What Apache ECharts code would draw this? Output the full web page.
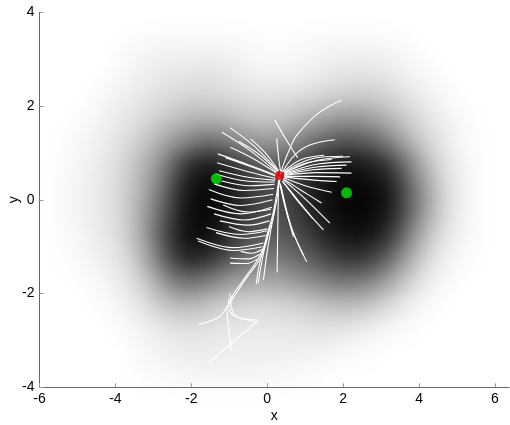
<!DOCTYPE html>
<html><head><meta charset="utf-8">
<script src="https://cdn.jsdelivr.net/npm/echarts@6/dist/echarts.min.js"></script>
<style>
html,body{margin:0;padding:0;background:#fff;}
#wrap{position:relative;width:510px;height:425px;overflow:hidden;background:#fff;}
#heat,#main{position:absolute;left:0;top:0;width:510px;height:425px;}
#heat{filter:blur(10px);}
</style></head><body>
<div id="wrap"><div id="heat"></div><div id="main"></div></div>
<script>
const xTicks = [-6, -4, -2, 0, 2, 4, 6];
const yTicks = [-4, -2, 0, 2, 4];
const heatX = [-5.75,-5.25,-4.75,-4.25,-3.75,-3.25,-2.75,-2.25,-1.75,-1.25,-0.75,-0.25,0.25,0.75,1.25,1.75,2.25,2.75,3.25,3.75,4.25,4.75,5.25,5.75];
const heatY = [-3.75,-3.25,-2.75,-2.25,-1.75,-1.25,-0.75,-0.25,0.25,0.75,1.25,1.75,2.25,2.75,3.25,3.75];
// density rows, top (y=3.75) to bottom (y=-3.75), 0 = white, 100 = black
const densityRows = [
 [0,0,0,0,0,0,0,0,0,0,0,0,0,0,0,0,0,0,0,0,0,0,0,0],
 [0,0,0,0,1,3,4,4,4,4,3,2,1,2,3,4,4,4,3,1,0,0,0,0],
 [0,0,0,0,3,6,8,9,10,10,7,4,4,4,6,9,10,10,8,4,2,0,0,0],
 [0,0,0,3,6,9,12,15,16,15,13,11,11,12,14,17,19,19,15,10,5,2,0,0],
 [0,0,2,5,9,14,20,26,29,28,24,21,22,26,32,38,40,37,28,18,10,5,1,0],
 [0,1,4,7,13,21,34,44,55,55,46,40,40,46,56,65,67,61,48,30,16,7,2,0],
 [0,2,5,9,17,30,45,74,90,88,76,66,64,70,82,90,93,88,78,50,26,10,4,0],
 [0,3,6,10,18,32,55,86,97,96,86,74,70,78,90,96,98,97,90,62,34,13,4,0],
 [0,3,6,10,18,36,62,90,98,95,84,72,68,76,88,95,98,97,90,62,34,13,4,0],
 [0,2,5,9,17,36,68,92,97,90,76,66,64,70,80,90,94,92,80,50,24,9,3,0],
 [0,1,3,7,13,30,60,84,86,74,60,54,52,58,66,76,80,76,58,34,14,5,1,0],
 [0,0,1,4,9,20,40,56,54,44,36,34,34,40,46,52,54,48,34,18,7,2,0,0],
 [0,0,0,2,5,11,22,28,26,20,16,15,16,18,22,26,26,22,14,6,2,0,0,0],
 [0,0,0,0,2,5,9,12,12,10,9,9,9,10,11,11,9,6,3,1,0,0,0,0],
 [0,0,0,0,0,3,5,7,7,7,6,6,6,6,5,4,2,1,0,0,0,0,0,0],
 [0,0,0,0,0,1,2,3,4,4,4,4,3,2,1,0,0,0,0,0,0,0,0,0]
];
const redPoint = [[0.32, 0.52]];
const greenPoints = [[-1.34, 0.45], [2.09, 0.15]];
const leftPaths = [
 [[-0.98,1.54],[-0.35,1.15],[0.28,0.62]],
 [[-1.19,1.44],[-0.45,1.05],[0.26,0.58]],
 [[-0.44,1.30],[-0.05,1.00],[0.30,0.62]],
 [[-0.75,1.25],[-0.20,0.96],[0.28,0.60]],
 [[-0.97,1.12],[-0.35,0.87],[0.26,0.56]],
 [[-1.30,0.98],[-0.50,0.75],[0.25,0.52]],
 [[-1.10,0.90],[-0.40,0.70],[0.24,0.50]],
 [[-1.32,0.79],[-0.50,0.60],[0.22,0.46]],
 [[-1.27,0.62],[-0.50,0.48],[0.21,0.42]],
 [[-1.36,0.55],[-0.55,0.40],[0.20,0.38]],
 [[-1.20,0.40],[-0.45,0.30],[0.19,0.33]],
 [[-1.40,0.34],[-0.60,0.20],[0.18,0.24]],
 [[-1.54,0.22],[-0.70,0.04],[0.16,0.12]],
 [[-1.49,0.02],[-0.70,-0.12],[0.14,0.00]],
 [[-1.58,-0.14],[-0.70,-0.30],[0.12,-0.16]],
 [[-1.40,-0.30],[-0.60,-0.43],[0.10,-0.30]],
 [[-1.16,-0.11],[-0.50,-0.26],[0.10,-0.20]],
 [[-1.25,-0.45],[-0.50,-0.54],[0.06,-0.45]],
 [[-1.60,-0.59],[-0.70,-0.74],[0.00,-0.66]],
 [[-1.01,-0.57],[-0.50,-0.68],[0.00,-0.62]],
 [[-1.35,-0.70],[-0.60,-0.82],[-0.04,-0.76]],
 [[-1.86,-0.82],[-0.90,-1.02],[-0.10,-0.92]],
 [[-1.82,-0.88],[-0.90,-1.08],[-0.13,-1.00]],
 [[-0.98,-1.24],[-0.50,-1.26],[-0.20,-1.16]],
 [[-0.98,-1.35],[-0.55,-1.36],[-0.26,-1.26]],
 [[-0.70,-1.10],[-0.40,-1.14],[-0.14,-1.06]]
];
const rightPaths = [
 [[2.18,0.92],[1.30,0.84],[0.45,0.58]],
 [[2.22,0.81],[1.30,0.76],[0.45,0.56]],
 [[2.09,0.74],[1.30,0.70],[0.45,0.55]],
 [[1.96,0.67],[1.20,0.64],[0.45,0.53]],
 [[2.22,0.57],[1.30,0.58],[0.45,0.52]],
 [[1.92,0.49],[1.20,0.50],[0.45,0.50]],
 [[1.83,0.39],[1.10,0.43],[0.45,0.49]],
 [[1.70,0.16],[1.00,0.30],[0.44,0.47]],
 [[1.43,-0.07],[0.90,0.20],[0.42,0.45]],
 [[1.65,-0.50],[1.00,0.02],[0.42,0.43]],
 [[1.48,-0.64],[0.90,-0.12],[0.40,0.40]],
 [[1.04,-1.32],[0.65,-0.62],[0.36,0.30]],
 [[0.95,-1.18],[0.60,-0.52],[0.34,0.30]],
 [[0.69,-0.79],[0.50,-0.22],[0.34,0.35]],
 [[1.20,-0.40],[0.80,0.00],[0.40,0.40]],
 [[1.70,0.86],[1.00,0.78],[0.45,0.57]],
 [[1.50,0.95],[0.90,0.86],[0.42,0.60]],
 [[2.00,0.93],[1.20,0.88],[0.45,0.60]]
];
const trunkPaths = [
 [[0.32,0.50],[0.22,-0.01],[0.13,-0.37],[0.00,-0.72],[-0.09,-1.00],[-0.26,-1.29],[-0.48,-1.54],[-0.70,-1.79],[-0.88,-2.00],[-1.01,-2.22],[-1.07,-2.30]],
 [[0.34,0.48],[0.25,0.00],[0.16,-0.37],[0.03,-0.72],[-0.06,-1.00],[-0.22,-1.30],[-0.45,-1.56],[-0.68,-1.82],[-0.85,-2.04],[-0.98,-2.20]],
 [[0.30,0.40],[0.28,-0.50],[0.26,-1.55]],
 [[0.20,-0.20],[0.02,-1.00],[-0.10,-1.71]],
 [[0.08,-0.55],[-0.10,-1.15],[-0.24,-1.78]],
 [[-0.02,-0.85],[-0.20,-1.35],[-0.29,-1.80]],
 [[-1.07,-2.28],[-1.25,-2.49],[-1.82,-2.67]],
 [[-1.07,-2.28],[-1.03,-2.63],[-0.94,-3.24]],
 [[-0.98,-1.99],[-0.85,-2.47],[-0.28,-2.56]],
 [[-1.02,-2.12],[-0.92,-2.45],[-0.24,-2.60]],
 [[-0.24,-2.58],[-1.51,-3.45]]
];
const topPaths = [
 [[0.34,0.52],[0.42,0.74],[0.60,1.10],[0.78,1.38],[1.35,1.85],[1.96,2.13]],
 [[0.36,0.55],[0.73,0.96],[1.12,1.17],[1.78,1.28]],
 [[0.20,1.70],[0.50,1.28],[0.80,0.90]],
 [[0.25,1.31],[0.30,0.90],[0.36,0.55]]
];

const font = "'Liberation Sans', Arial, sans-serif";
const allPaths = [].concat(leftPaths, rightPaths, trunkPaths, topPaths);
const lineSeries = allPaths.map(p => ({
  type: 'line', data: p, smooth: 0.35, symbol: 'none', silent: true,
  lineStyle: { color: '#ffffff', width: 1.1 }, z: 2
}));

const main = echarts.init(document.getElementById('main'));
main.setOption({
  animation: false,
  backgroundColor: 'transparent',
  grid: { left: 39.5, right: 1, top: 12.3, bottom: 37.7, containLabel: false, outerBoundsMode: 'none' },
  xAxis: {
    type: 'value', min: -6, max: 6.37,
    name: 'x', nameLocation: 'middle', nameGap: 22, nameMoveOverlap: false,
    nameTextStyle: { color: '#000', fontSize: 14, fontFamily: font },
    axisLine: { show: true, onZero: false, lineStyle: { color: '#666', width: 1 } },
    axisTick: { show: true, inside: true, length: 4, customValues: xTicks, lineStyle: { color: '#999' } },
    axisLabel: { customValues: xTicks, color: '#000', fontSize: 14, fontFamily: font, margin: 5 },
    splitLine: { show: false }
  },
  yAxis: {
    type: 'value', min: -4, max: 4, interval: 2,
    name: 'y', nameLocation: 'middle', nameGap: 18, nameRotate: 90, nameMoveOverlap: false,
    nameTextStyle: { color: '#000', fontSize: 14, fontFamily: font },
    axisLine: { show: true, onZero: false, lineStyle: { color: '#666', width: 1 } },
    axisTick: { show: true, inside: true, length: 4, customValues: yTicks, lineStyle: { color: '#999' } },
    axisLabel: { customValues: yTicks, color: '#000', fontSize: 14, fontFamily: font, margin: 5 },
    splitLine: { show: false }
  },
  series: lineSeries.concat([
    { type: 'scatter', data: greenPoints, symbolSize: 11, itemStyle: { color: '#00e600' }, z: 5 },
    { type: 'scatter', data: redPoint, symbolSize: 9, itemStyle: { color: '#ff0000' }, z: 6 }
  ])
});

const p0 = main.convertToPixel({ gridIndex: 0 }, [-6, 4]);
const p1 = main.convertToPixel({ gridIndex: 0 }, [6, -4]);
const heatData = [];
densityRows.forEach((row, r) => {
  row.forEach((v, c) => { heatData.push([c, densityRows.length - 1 - r, v]); });
});
const heat = echarts.init(document.getElementById('heat'));
heat.setOption({
  animation: false,
  backgroundColor: '#ffffff',
  grid: { left: p0[0], top: p0[1], width: p1[0] - p0[0], height: p1[1] - p0[1], outerBoundsMode: 'none' },
  xAxis: { type: 'category', data: heatX, show: false },
  yAxis: { type: 'category', data: heatY, show: false },
  visualMap: { show: false, min: 0, max: 100, dimension: 2, inRange: { color: ['#ffffff', '#000000'] } },
  series: [{ type: 'heatmap', data: heatData }]
});
</script>
</body></html>
